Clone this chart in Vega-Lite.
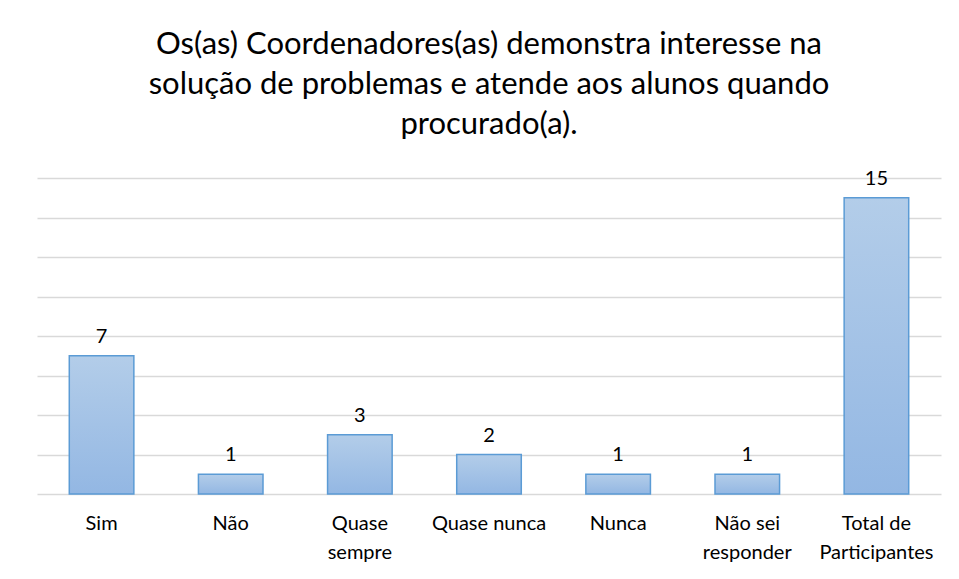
{
  "$schema": "https://vega.github.io/schema/vega-lite/v6.json",
  "width": 904,
  "height": 316,
  "padding": {"left": 37, "top": 28, "right": 18, "bottom": 5},
  "background": "white",
  "title": {
    "text": ["Os(as) Coordenadores(as) demonstra interesse na", "solução de problemas e atende aos alunos quando", "procurado(a)."],
    "font": "Lato",
    "fontSize": 31,
    "fontWeight": "normal",
    "color": "#000000",
    "lineHeight": 40,
    "anchor": "middle",
    "offset": 28
  },
  "data": {
    "values": [
      {"categoria": "Sim", "valor": 7},
      {"categoria": "Não", "valor": 1},
      {"categoria": "Quase sempre", "valor": 3},
      {"categoria": "Quase nunca", "valor": 2},
      {"categoria": "Nunca", "valor": 1},
      {"categoria": "Não sei responder", "valor": 1},
      {"categoria": "Total de Participantes", "valor": 15}
    ]
  },
  "encoding": {
    "x": {
      "field": "categoria",
      "type": "nominal",
      "sort": null,
      "scale": {"paddingInner": 0.5, "paddingOuter": 0.25},
      "axis": {
        "title": null,
        "labelAngle": 0,
        "domain": false,
        "ticks": false,
        "labelPadding": 19,
        "labelFont": "Lato",
        "labelFontSize": 20,
        "labelColor": "#000000",
        "labelLineHeight": 29,
        "labelExpr": "datum.value == 'Quase sempre' ? ['Quase', 'sempre'] : datum.value == 'Não sei responder' ? ['Não sei', 'responder'] : datum.value == 'Total de Participantes' ? ['Total de', 'Participantes'] : datum.value"
      }
    },
    "y": {
      "field": "valor",
      "type": "quantitative",
      "scale": {"domain": [0, 16], "nice": false},
      "axis": {
        "title": null,
        "labels": false,
        "ticks": false,
        "domain": false,
        "values": [0, 2, 4, 6, 8, 10, 12, 14, 16],
        "gridColor": "#d9d9d9",
        "gridWidth": 1.5
      }
    }
  },
  "layer": [
    {
      "mark": {
        "type": "bar",
        "stroke": "#5b9bd5",
        "strokeWidth": 1.5,
        "color": {
          "gradient": "linear",
          "x1": 0, "y1": 0, "x2": 0, "y2": 1,
          "stops": [
            {"offset": 0, "color": "#b3cde9"},
            {"offset": 1, "color": "#93b7e3"}
          ]
        }
      }
    },
    {
      "mark": {
        "type": "text",
        "baseline": "bottom",
        "dy": -9,
        "font": "Lato",
        "fontSize": 20,
        "color": "#000000"
      },
      "encoding": {"text": {"field": "valor", "type": "quantitative"}}
    }
  ],
  "config": {"view": {"stroke": null}}
}
